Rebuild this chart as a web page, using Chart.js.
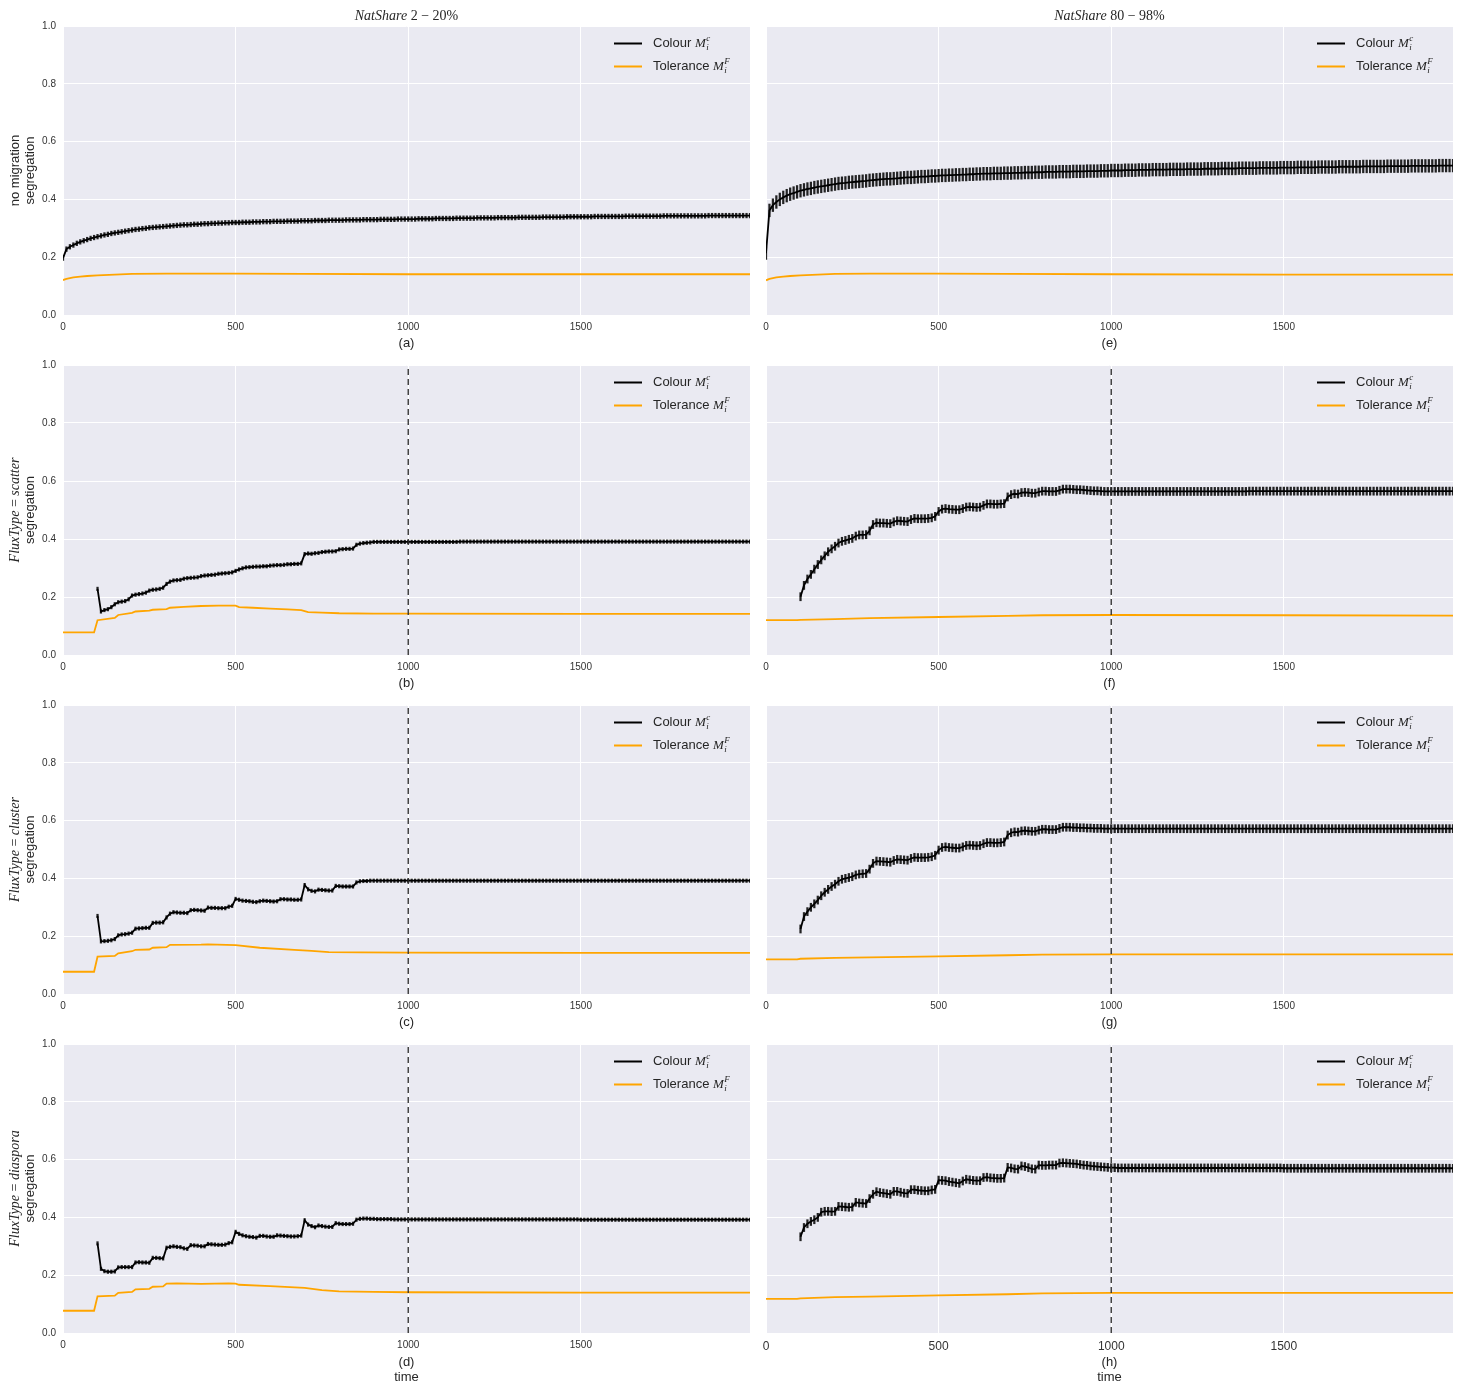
<!DOCTYPE html>
<html>
<head>
<meta charset="utf-8">
<script src="https://cdn.jsdelivr.net/npm/chart.js@4.4.0/dist/chart.umd.min.js"></script>
<style>
  html, body { margin: 0; padding: 0; background: #ffffff; }
  #fig { position: relative; width: 1462px; height: 1385px; overflow: hidden; background: #ffffff; }
  #fig canvas { position: absolute; }
</style>
</head>
<body>
<div id="fig"></div>
<script>
// ---------------------------------------------------------------------------
// Segregation over time. Colour segregation is recorded every 10 steps
// (values below are segregation x 1000); tolerance is given as a polyline
// of (time, value) points. Migration runs from t = 100 until t = 1000.
// ---------------------------------------------------------------------------

// record times: 0, 10, ..., 1990
const recordTimes = Array.from({ length: 200 }, (_, k) => k * 10);
const migrationStart = 100;
const migrationEnd = 1000;

const columnTitles = [["NatShare", " 2 − 20%"], ["NatShare", " 80 − 98%"]];
const fluxTypes = [null, "scatter", "cluster", "diaspora"];
const panelLetters = ["(a)", "(b)", "(c)", "(d)", "(e)", "(f)", "(g)", "(h)"];
const xTickValues = [0, 500, 1000, 1500];
const yTickValues = [0, 0.2, 0.4, 0.6, 0.8, 1.0];

// ---- (a) no migration, NatShare 2-20% -------------------------------------
const colourA = [
  197,228,236,242,248,253,257,261,265,268,
  271,274,277,279,282,284,286,288,290,292,
  294,296,297,299,300,302,303,304,305,306,
  307,308,309,310,311,312,312,313,314,314,
  315,316,316,317,317,318,318,319,319,320,
  320,320,321,321,321,322,322,322,323,323,
  323,324,324,324,324,325,325,325,325,326,
  326,326,326,327,327,327,327,328,328,328,
  328,328,329,329,329,329,329,330,330,330,
  330,330,331,331,331,331,331,332,332,332,
  332,332,332,333,333,333,333,333,334,334,
  334,334,334,334,335,335,335,335,335,335,
  336,336,336,336,336,336,337,337,337,337,
  337,337,338,338,338,338,338,338,338,339,
  339,339,339,339,339,339,340,340,340,340,
  340,340,340,340,341,341,341,341,341,341,
  341,341,341,342,342,342,342,342,342,342,
  342,342,342,342,343,343,343,343,343,343,
  343,343,343,343,343,343,343,344,344,344,
  344,344,344,344,344,344,344,344,344,344
];
const errA = 0.008;
const tolTimeA = [0, 10, 20, 30, 50, 70, 100, 150, 200, 300, 500, 700, 1000, 1500, 1990];
const tolA = [0.121, 0.125, 0.128, 0.130, 0.133, 0.135, 0.137, 0.140, 0.142, 0.143, 0.143, 0.142, 0.141, 0.141, 0.141];

// ---- (b) scatter, NatShare 2-20% ------------------------------------------
const colourB = [
  228,150,155,158,165,175,182,184,186,192,
  205,208,210,212,215,222,225,226,228,232,
  245,253,257,258,259,263,265,266,267,268,
  272,274,275,276,277,280,281,282,283,285,
  290,295,299,302,303,304,305,305,306,306,
  308,309,310,310,311,313,313,314,314,316,
  348,350,349,351,352,355,356,357,357,358,
  364,365,366,366,367,380,384,386,387,388,
  390,390,390,390,390,390,390,390,390,390,
  390,390,390,390,390,390,390,390,390,390,
  390,390,390,390,390,391,391,391,391,391,
  391,391,391,391,391,391,391,391,391,391,
  391,391,391,391,391,391,391,391,391,391,
  391,391,391,391,391,391,391,391,391,391,
  391,391,391,391,391,391,391,391,391,391,
  391,391,391,391,391,391,391,391,391,391,
  391,391,391,391,391,391,391,391,391,391,
  391,391,391,391,391,391,391,391,391,391,
  391,391,391,391,391,391,391,391,391,391
];
const errB = 0.006;
const tolTimeB = [0, 90, 100, 150, 160, 200, 210, 250, 260, 300, 310, 350, 400, 450, 500, 510, 550, 600, 650, 690, 710, 750, 800, 900, 1000, 1500, 1990];
const tolB = [0.078, 0.078, 0.120, 0.128, 0.138, 0.145, 0.150, 0.153, 0.156, 0.158, 0.163, 0.166, 0.169, 0.170, 0.170, 0.165, 0.163, 0.160, 0.157, 0.155, 0.148, 0.146, 0.144, 0.143, 0.143, 0.142, 0.142];

// ---- (c) cluster, NatShare 2-20% ------------------------------------------
const colourC = [
  270,182,183,184,186,190,203,206,207,209,
  212,226,227,228,229,229,246,247,247,248,
  265,278,283,282,281,281,280,290,291,290,
  289,288,299,298,298,297,297,297,302,305,
  329,326,323,322,321,319,318,321,323,322,
  321,320,321,328,328,327,327,326,326,327,
  377,362,357,355,361,360,359,358,358,374,
  373,372,372,372,372,386,390,391,391,392,
  392,392,392,392,392,392,392,392,392,392,
  392,392,392,392,392,392,392,392,392,392,
  392,392,392,392,392,392,392,392,392,392,
  392,392,392,392,392,392,392,392,392,392,
  392,392,392,392,392,392,392,392,392,392,
  392,392,392,392,392,392,392,392,392,392,
  392,392,392,392,392,392,392,392,392,392,
  392,392,392,392,392,392,392,392,392,392,
  392,392,392,392,392,392,392,392,392,392,
  392,392,392,392,392,392,392,392,392,392,
  392,392,392,392,392,392,392,392,392,392
];
const errC = 0.006;
const tolTimeC = [0, 90, 100, 150, 160, 200, 210, 250, 260, 300, 310, 400, 420, 500, 570, 670, 720, 770, 860, 1000, 1500, 1990];
const tolC = [0.077, 0.077, 0.129, 0.132, 0.141, 0.148, 0.153, 0.154, 0.160, 0.162, 0.170, 0.171, 0.172, 0.169, 0.160, 0.153, 0.149, 0.145, 0.144, 0.143, 0.142, 0.142];

// ---- (d) diaspora, NatShare 2-20% -----------------------------------------
const colourD = [
  310,222,214,212,212,213,227,228,228,228,
  228,244,245,244,244,243,260,260,259,258,
  295,298,300,298,297,293,291,304,303,302,
  300,300,308,307,306,305,305,306,311,314,
  350,343,338,335,333,332,330,336,336,334,
  333,333,338,337,336,335,334,334,335,337,
  390,375,370,366,372,370,368,367,367,380,
  378,377,377,377,378,392,395,396,396,395,
  395,394,394,394,394,394,393,393,393,393,
  393,393,393,393,393,393,393,393,393,393,
  393,393,393,393,393,393,393,393,393,393,
  393,393,393,393,393,393,393,393,393,393,
  393,393,393,393,393,393,393,393,393,393,
  393,393,393,393,393,393,393,393,393,393,
  392,392,392,392,392,392,392,392,392,392,
  392,392,392,392,392,392,392,392,392,392,
  392,392,392,392,392,392,392,392,392,392,
  392,392,392,392,392,392,392,392,392,392,
  392,392,392,392,392,392,392,392,392,392
];
const errD = 0.006;
const tolTimeD = [0, 90, 100, 150, 160, 200, 210, 250, 260, 290, 300, 330, 400, 480, 500, 510, 600, 700, 750, 800, 900, 1000, 1500, 1990];
const tolD = [0.077, 0.077, 0.127, 0.129, 0.139, 0.142, 0.151, 0.153, 0.160, 0.161, 0.171, 0.172, 0.170, 0.172, 0.171, 0.167, 0.162, 0.156, 0.148, 0.144, 0.142, 0.141, 0.140, 0.140];

// ---- (e) no migration, NatShare 80-98% ------------------------------------
const colourE = [
  214,362,380,391,400,407,413,418,422,426,
  430,433,436,438,441,443,445,447,449,451,
  453,455,456,457,459,460,461,462,463,464,
  466,467,468,469,470,471,471,472,473,474,
  475,476,476,477,478,479,479,480,481,481,
  482,483,483,484,484,485,485,486,486,487,
  487,488,488,489,489,489,490,490,490,491,
  491,491,492,492,492,493,493,493,494,494,
  494,495,495,495,495,496,496,496,496,497,
  497,497,497,498,498,498,498,499,499,499,
  500,500,500,500,501,501,501,501,502,502,
  502,502,503,503,503,503,503,504,504,504,
  504,504,505,505,505,505,505,506,506,506,
  506,506,507,507,507,507,507,508,508,508,
  508,508,508,509,509,509,509,509,509,510,
  510,510,510,510,511,511,511,511,511,511,
  512,512,512,512,512,512,513,513,513,513,
  513,513,513,514,514,514,514,514,514,514,
  515,515,515,515,515,515,515,516,516,516,
  516,516,516,516,516,517,517,517,517,517
];
const errE = 0.022;
const tolTimeE = [0, 10, 20, 30, 50, 70, 100, 150, 200, 300, 500, 700, 1000, 1500, 1990];
const tolE = [0.120, 0.125, 0.128, 0.130, 0.133, 0.135, 0.137, 0.140, 0.142, 0.143, 0.143, 0.142, 0.141, 0.140, 0.140];

// ---- (f) scatter, NatShare 80-98% -----------------------------------------
const colourF = [
  201,240,262,278,296,312,328,342,356,366,
  375,386,392,395,399,402,410,414,414,415,
  428,450,456,455,455,454,453,459,463,462,
  461,460,467,471,470,470,470,471,473,478,
  495,503,505,503,502,501,501,505,510,511,
  510,509,510,516,521,521,520,520,521,522,
  545,553,556,555,560,561,560,558,558,562,
  565,565,564,564,564,568,572,572,572,571,
  570,570,569,568,567,566,566,565,564,564,
  564,564,564,564,564,564,564,564,564,564,
  564,564,564,564,564,564,564,564,564,564,
  564,564,564,564,564,564,564,564,564,564,
  564,564,564,564,564,564,564,564,564,564,
  565,565,565,565,565,565,565,565,565,565,
  565,565,565,565,565,565,565,565,565,565,
  565,565,565,565,565,565,565,565,565,565,
  565,565,565,565,565,565,565,565,565,565,
  565,565,565,565,565,565,565,565,565,565,
  565,565,565,565,565,565,565,565,565,565
];
const errF = 0.014;
const tolTimeF = [0, 90, 100, 200, 300, 500, 700, 800, 1000, 1500, 1990];
const tolF = [0.120, 0.120, 0.121, 0.124, 0.127, 0.131, 0.135, 0.137, 0.138, 0.137, 0.136];

// ---- (g) cluster, NatShare 80-98% -----------------------------------------
const colourG = [
  225,268,285,300,312,325,340,352,362,372,
  380,390,397,400,403,406,412,415,416,417,
  432,452,460,459,458,457,456,462,466,465,
  464,463,469,473,472,472,472,473,475,480,
  498,507,509,507,506,505,505,509,514,515,
  514,513,514,520,524,524,523,523,524,526,
  550,558,561,560,564,565,564,563,563,567,
  570,570,569,569,569,573,577,577,577,576,
  576,575,575,574,574,573,573,573,572,572,
  572,572,572,572,572,572,572,572,572,572,
  572,572,572,572,572,572,572,572,572,572,
  572,572,572,572,572,572,572,572,572,572,
  572,572,572,572,572,572,572,572,572,572,
  572,572,572,572,572,572,572,572,572,572,
  572,572,572,572,572,572,572,572,572,572,
  572,572,572,572,572,572,572,572,572,572,
  572,572,572,572,572,572,572,572,572,572,
  572,572,572,572,572,572,572,572,572,572,
  572,572,572,572,572,572,572,572,572,572
];
const errG = 0.014;
const tolTimeG = [0, 90, 100, 200, 300, 500, 700, 800, 1000, 1500, 1990];
const tolG = [0.120, 0.120, 0.122, 0.125, 0.127, 0.130, 0.134, 0.136, 0.137, 0.137, 0.137];

// ---- (h) diaspora, NatShare 80-98% ----------------------------------------
const colourH = [
  333,365,378,386,392,400,418,421,421,420,
  421,438,437,436,435,436,452,450,449,448,
  465,480,489,486,484,482,480,490,490,487,
  484,483,496,496,494,493,492,492,495,497,
  529,528,527,524,522,520,518,526,532,530,
  528,527,527,538,539,537,536,535,535,536,
  573,571,568,567,578,576,572,568,567,581,
  580,580,581,581,581,588,589,588,587,586,
  585,583,581,580,578,577,576,575,574,573,
  572,572,571,571,571,571,571,571,571,571,
  571,571,571,571,571,571,571,571,571,571,
  571,571,571,571,571,571,571,571,571,571,
  571,571,571,571,571,571,571,571,571,571,
  571,571,571,571,571,571,571,571,571,571,
  570,570,570,570,570,570,570,570,570,570,
  570,570,570,570,570,570,570,570,570,570,
  570,570,570,570,570,570,570,570,570,570,
  570,570,570,570,570,570,570,570,570,570,
  570,570,570,570,570,570,570,570,570,570
];
const errH = 0.014;
const tolTimeH = [0, 90, 100, 200, 300, 500, 700, 800, 1000, 1500, 1990];
const tolH = [0.118, 0.118, 0.120, 0.124, 0.126, 0.130, 0.134, 0.137, 0.139, 0.139, 0.139];

// ---------------------------------------------------------------------------
// Panel setup
// ---------------------------------------------------------------------------
const SANS = '"Liberation Sans", Arial, Helvetica, sans-serif';
const SERIF = '"Liberation Serif", "DejaVu Serif", "Times New Roman", serif';
const TEXT = '#262626';
const PANEL_BG = '#EAEAF2';
const ORANGE = '#FFA500';

Chart.defaults.font.family = SANS;
Chart.defaults.color = TEXT;

const panels = [
  { col: 0, row: 0, colour: colourA, err: errA, tolTime: tolTimeA, tol: tolA, migration: false },
  { col: 0, row: 1, colour: colourB, err: errB, tolTime: tolTimeB, tol: tolB, migration: true },
  { col: 0, row: 2, colour: colourC, err: errC, tolTime: tolTimeC, tol: tolC, migration: true },
  { col: 0, row: 3, colour: colourD, err: errD, tolTime: tolTimeD, tol: tolD, migration: true },
  { col: 1, row: 0, colour: colourE, err: errE, tolTime: tolTimeE, tol: tolE, migration: false },
  { col: 1, row: 1, colour: colourF, err: errF, tolTime: tolTimeF, tol: tolF, migration: true },
  { col: 1, row: 2, colour: colourG, err: errG, tolTime: tolTimeG, tol: tolG, migration: true },
  { col: 1, row: 3, colour: colourH, err: errH, tolTime: tolTimeH, tol: tolH, migration: true }
];

// page geometry of the grid
const plotLeft = [63, 766];
const plotWidth = 687;
const plotTop = [26, 365, 705, 1044];
const plotHeight = [289, 290, 289, 289];
const yAxisWidth = [63, 10];
const xAxisHeight = [40, 40, 40, 52];
const titlePadBottom = [4, 4, 4, 0];
const padRight = 4;

// draw a run of text pieces (some italic serif, some plain) centred at (cx, cy)
function drawPieces(ctx, pieces, cx, cy) {
  let total = 0;
  pieces.forEach(p => { ctx.font = p.font; p.w = ctx.measureText(p.t).width; total += p.w; });
  let x = cx - total / 2;
  ctx.textAlign = 'left';
  ctx.textBaseline = 'middle';
  pieces.forEach(p => { ctx.font = p.font; ctx.fillText(p.t, x, cy); x += p.w; });
}

const legendEntries = [
  { label: 'Colour ', sup: 'c', color: '#000000' },
  { label: 'Tolerance ', sup: 'F', color: ORANGE }
];

function makeDecor(p) {
  return {
    id: 'decor',
    beforeDraw(chart) {
      const { ctx, chartArea: a } = chart;
      ctx.save();
      ctx.fillStyle = PANEL_BG;
      ctx.fillRect(a.left, a.top, a.right - a.left, a.bottom - a.top);
      ctx.restore();
    },
    afterDraw(chart) {
      const { ctx, chartArea: a } = chart;
      ctx.save();
      ctx.fillStyle = TEXT;

      // legend
      legendEntries.forEach((e, k) => {
        const y = a.top + 17.5 + k * 23;
        ctx.strokeStyle = e.color;
        ctx.lineWidth = 2;
        ctx.beginPath();
        ctx.moveTo(a.right - 136, y);
        ctx.lineTo(a.right - 108, y);
        ctx.stroke();
        ctx.textAlign = 'left';
        ctx.textBaseline = 'middle';
        ctx.font = '13px ' + SANS;
        let x = a.right - 97;
        ctx.fillText(e.label, x, y);
        x += ctx.measureText(e.label).width;
        ctx.font = 'italic 13px ' + SERIF;
        ctx.fillText('M', x, y);
        x += ctx.measureText('M').width + 0.5;
        ctx.font = 'italic 9px ' + SERIF;
        ctx.fillText('i', x, y + 4);
        ctx.fillText(e.sup, x, y - 5);
      });

      // column title
      if (p.row === 0) {
        const t = columnTitles[p.col];
        drawPieces(ctx, [
          { t: t[0], font: 'italic 14px ' + SERIF },
          { t: t[1], font: '14px ' + SERIF }
        ], (a.left + a.right) / 2, a.top - 10);
      }

      // row labels on the left column
      if (p.col === 0) {
        const cy = (a.top + a.bottom) / 2;
        ctx.translate(0, cy);
        ctx.rotate(-Math.PI / 2);
        const flux = fluxTypes[p.row];
        if (flux === null) {
          drawPieces(ctx, [{ t: 'no migration', font: '13px ' + SANS }], 0, 15);
        } else {
          drawPieces(ctx, [
            { t: 'FluxType', font: 'italic 14px ' + SERIF },
            { t: ' = ', font: '14px ' + SERIF },
            { t: flux, font: 'italic 14px ' + SERIF }
          ], 0, 15);
        }
        drawPieces(ctx, [{ t: 'segregation', font: '13px ' + SANS }], 0, 30);
      }
      ctx.restore();
    }
  };
}

const fig = document.getElementById('fig');

panels.forEach((p) => {
  const padTop = p.row === 0 ? 26 : 16;
  const W = yAxisWidth[p.col];
  const H = xAxisHeight[p.row];
  const canvas = document.createElement('canvas');
  const cw = W + plotWidth + padRight;
  const ch = padTop + plotHeight[p.row] + H;
  canvas.width = cw;
  canvas.height = ch;
  canvas.style.left = (plotLeft[p.col] - W) + 'px';
  canvas.style.top = (plotTop[p.row] - padTop) + 'px';
  canvas.style.width = cw + 'px';
  canvas.style.height = ch + 'px';
  fig.appendChild(canvas);

  const times = p.migration ? recordTimes.filter(t => t >= migrationStart) : recordTimes;
  const mean = p.colour.map(v => v / 1000);
  const colourLine = times.map((t, k) => ({ x: t, y: mean[k] }));
  const colourBars = times.map((t, k) => ({ x: t, y: [mean[k] - p.err, mean[k] + p.err] }));
  const tolLine = p.tolTime.map((t, k) => ({ x: t, y: p.tol[k] }));

  const datasets = [];
  if (p.migration) {
    datasets.push({
      type: 'line', label: 'migration end',
      data: [{ x: migrationEnd, y: 0 }, { x: migrationEnd, y: 1 }],
      borderColor: '#2b2b2b', borderWidth: 1.3, borderDash: [6, 4],
      pointRadius: 0, order: 0
    });
  }
  datasets.push({
    type: 'line', label: 'Tolerance',
    data: tolLine, borderColor: ORANGE, borderWidth: 1.8,
    pointRadius: 0, tension: 0, order: 1
  });
  datasets.push({
    type: 'line', label: 'Colour',
    data: colourLine, borderColor: '#000000', borderWidth: 1.8,
    pointRadius: 0, tension: 0, order: 2
  });
  datasets.push({
    type: 'bar', label: 'Colour spread',
    data: colourBars, backgroundColor: 'rgba(0,0,0,0.85)', borderWidth: 0,
    barThickness: 1.6, grouped: false, order: 3
  });

  const bottomRow = p.row === 3;
  const letter = panelLetters[p.col * 4 + p.row];

  new Chart(canvas, {
    type: 'line',
    data: { datasets },
    options: {
      responsive: false,
      animation: false,
      devicePixelRatio: 1,
      events: [],
      layout: { padding: { top: padTop, right: padRight, left: 0, bottom: 0 } },
      plugins: { legend: { display: false }, tooltip: { enabled: false }, title: { display: false } },
      scales: {
        x: {
          type: 'linear', min: 0, max: 1990, offset: false,
          grid: { color: '#ffffff', lineWidth: 1, drawTicks: false, offset: false },
          border: { display: false },
          afterBuildTicks: s => { s.ticks = xTickValues.map(v => ({ value: v })); },
          afterFit: s => { s.height = H; },
          ticks: {
            autoSkip: false, maxRotation: 0, padding: 6,
            color: '#333333',
            font: { size: (p.col === 1 && bottomRow) ? 12 : 10, family: SANS },
            callback: v => String(v)
          },
          title: {
            display: true,
            text: bottomRow ? [letter, 'time'] : letter,
            color: TEXT,
            font: { size: 13, family: SANS, lineHeight: 1.15 },
            padding: { top: 0, bottom: titlePadBottom[p.row] }
          }
        },
        y: {
          type: 'linear', min: 0, max: 1,
          grid: { color: '#ffffff', lineWidth: 1, drawTicks: false, offset: false },
          border: { display: false },
          afterBuildTicks: s => { s.ticks = yTickValues.map(v => ({ value: v })); },
          afterFit: s => { s.width = W; },
          ticks: {
            display: p.col === 0, padding: 7,
            color: '#333333',
            font: { size: 10, family: SANS },
            callback: v => v.toFixed(1)
          }
        }
      }
    },
    plugins: [makeDecor(p)]
  });
});
</script>
</body>
</html>
